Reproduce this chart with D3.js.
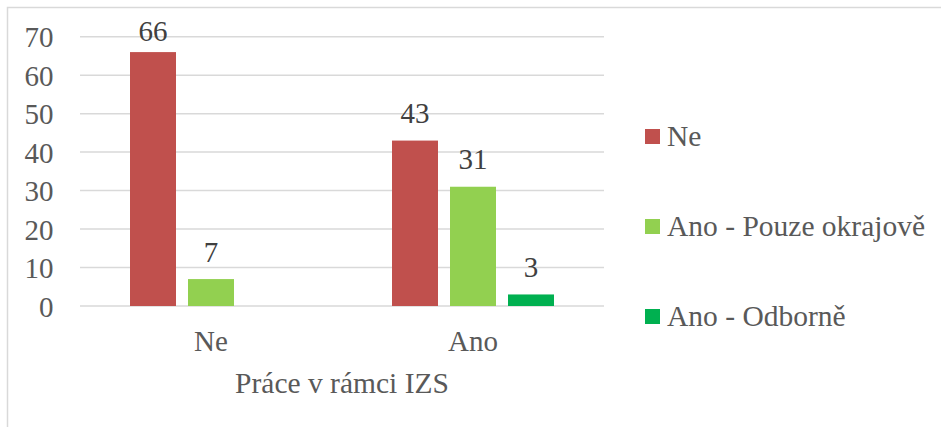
<!DOCTYPE html>
<html>
<head>
<meta charset="utf-8">
<script src="https://cdn.jsdelivr.net/npm/d3@7"></script>
<style>
  body { margin: 0; background: #fff; }
  #chart { position: relative; width: 941px; height: 427px; overflow: hidden; }
  #chart svg { position: absolute; left: 0; top: 0; display: block; }
  .lbl { position: absolute; line-height: 0; white-space: nowrap; font-family: 'Liberation Serif'; }
</style>
</head>
<body>
<div id="chart"></div>
<script>
const categories = ['Ne', 'Ano'];
const seriesNames = ['Ne', 'Ano - Pouze okrajově', 'Ano - Odborně'];
const seriesColors = ['#C0504D', '#92D050', '#00B050'];
// values per category, one per series (null = no bar)
const valuesNe = [66, 7, null];
const valuesAno = [43, 31, 3];
const yTicks = [0, 10, 20, 30, 40, 50, 60, 70];
const axisTitle = 'Práce v rámci IZS';

const width = 941, height = 427;
const plot = { left: 80, right: 604, top: 36.7, bottom: 306 };

const container = d3.select('#chart');

const svg = container.append('svg')
  .attr('width', width)
  .attr('height', height);

// html label placed by its baseline (line-height 0 puts the line box mid-glyph)
function label(x, baseline, text, anchor, size, color) {
  const shift = anchor === 'end' ? '-100%' : anchor === 'middle' ? '-50%' : '0';
  return container.append('div')
    .attr('class', 'lbl')
    .style('left', x + 'px')
    .style('top', (baseline - 0.3375 * size) + 'px')
    .style('font-size', size + 'px')
    .style('color', color)
    .style('transform', `translateX(${shift})`)
    .text(text);
}

// chart frame (clipped by the picture on right/bottom)
svg.append('rect')
  .attr('x', 7.5).attr('y', 7.5)
  .attr('width', 945).attr('height', 440)
  .attr('fill', 'none')
  .attr('stroke', '#d9d9d9')
  .attr('stroke-width', 1.5);

const y = d3.scaleLinear().domain([0, 70]).range([plot.bottom, plot.top]);

const x0 = d3.scaleBand().domain(categories).range([plot.left, plot.right]);
const x1 = d3.scaleBand().domain(seriesNames)
  .range([50, x0.bandwidth() - 50])
  .paddingInner(0.207)
  .paddingOuter(0);

// gridlines
svg.selectAll('line.grid')
  .data(yTicks)
  .enter().append('line')
  .attr('class', 'grid')
  .attr('x1', plot.left).attr('x2', plot.right)
  .attr('y1', d => y(d)).attr('y2', d => y(d))
  .attr('stroke', '#d9d9d9')
  .attr('stroke-width', 1.5);

// y tick labels
yTicks.forEach(t => label(53.5, y(t) + 10.5, t, 'end', 29, '#595959'));

const rows = [valuesNe, valuesAno].map((vals, i) => ({
  cat: categories[i],
  items: vals.map((v, j) => ({ series: seriesNames[j], color: seriesColors[j], value: v }))
    .filter(d => d.value != null)
}));

const groups = svg.selectAll('g.cat')
  .data(rows)
  .enter().append('g')
  .attr('class', 'cat')
  .attr('transform', d => `translate(${x0(d.cat)},0)`);

groups.selectAll('rect')
  .data(d => d.items)
  .enter().append('rect')
  .attr('x', d => x1(d.series))
  .attr('y', d => y(d.value))
  .attr('width', x1.bandwidth())
  .attr('height', d => y(0) - y(d.value))
  .attr('fill', d => d.color);

// data labels (kept inside the plot area like Excel does)
rows.forEach(r => r.items.forEach(d => {
  label(x0(r.cat) + x1(d.series) + x1.bandwidth() / 2,
    Math.max(y(d.value) - 17.5, 40.7), d.value, 'middle', 29, '#404040');
}));

// category labels
categories.forEach(c => label(x0(c) + x0.bandwidth() / 2, plot.bottom + 45, c, 'middle', 29, '#595959'));

// axis title
label((plot.left + plot.right) / 2, 392.5, axisTitle, 'middle', 29.5, '#595959');

// legend
const legend = svg.selectAll('g.legend')
  .data(seriesNames)
  .enter().append('g')
  .attr('class', 'legend')
  .attr('transform', (d, i) => `translate(645,${129 + i * 90})`);

legend.append('rect')
  .attr('width', 15).attr('height', 15)
  .attr('fill', (d, i) => seriesColors[i]);

seriesNames.forEach((s, i) => label(667, 145.5 + i * 90, s, 'start', 29.5, '#595959'));
</script>
</body>
</html>
